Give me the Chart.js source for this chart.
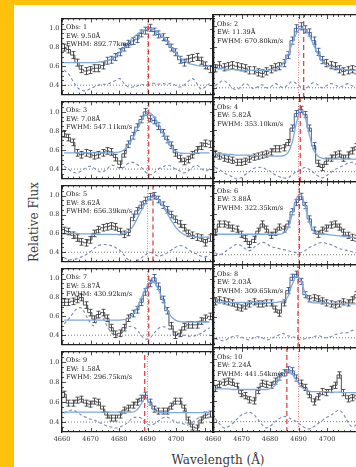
<!DOCTYPE html>
<html><head><meta charset="utf-8">
<script src="https://cdn.jsdelivr.net/npm/chart.js@4.4.1/dist/chart.umd.min.js"></script>
<style>
html,body{margin:0;padding:0;width:356px;height:467px;overflow:hidden;background:#FEC20C;position:relative;}
#page{position:absolute;left:14px;top:5px;width:342px;height:462px;background:#fff;}
canvas{position:absolute;}
.title{position:absolute;font-family:"DejaVu Serif";font-size:12px;color:#3a3a3a;white-space:nowrap;transform:translate(-50%,-50%);}
#xt{left:218px;top:460px;}
#yt{left:34px;top:222px;transform:translate(-50%,-50%) rotate(-90deg);}
</style></head><body>
<div id="page"></div>
<div class="title" id="xt">Wavelength (Å)</div>
<div class="title" id="yt">Relative Flux</div>
<script>
// ---------------- data ----------------
const wavelengths=[4660.75,4662.25,4663.75,4665.25,4666.75,4668.25,4669.75,4671.25,4672.75,4674.25,4675.75,4677.25,4678.75,4680.25,4681.75,4683.25,4684.75,4686.25,4687.75,4689.25,4690.75,4692.25,4693.75,4695.25,4696.75,4698.25,4699.75,4701.25,4702.75,4704.25,4705.75,4707.25,4708.75,4710.25,4711.75];
const xTickValues=[4660,4670,4680,4690,4700];
const xTickLabels=['4660','4670','4680','4690','4700'];
const yTickValues=[0.4,0.6,0.8,1.0];
const yTickLabels=['0.4','0.6','0.8','1.0'];
const obsNames=['Obs: 1','Obs: 2','Obs: 3','Obs: 4','Obs: 5','Obs: 6','Obs: 7','Obs: 8','Obs: 9','Obs: 10'];
const ewLabels=['EW: 9.50Å','EW: 11.39Å','EW: 7.08Å','EW: 5.82Å','EW: 8.62Å','EW: 3.88Å','EW: 5.87Å','EW: 2.03Å','EW: 1.58Å','EW: 2.24Å'];
const fwhmLabels=['FWHM: 892.77km/s','FWHM: 670.80km/s','FWHM: 547.11km/s','FWHM: 353.10km/s','FWHM: 656.39km/s','FWHM: 322.35km/s','FWHM: 430.92km/s','FWHM: 309.65km/s','FWHM: 296.75km/s','FWHM: 441.54km/s'];
const fluxErr=[0.037,0.035,0.035,0.03,0.035,0.03,0.035,0.03,0.03,0.03];
const lineCenters=[4690.3,4691.8,4690.4,4690.6,4691.9,4690.3,4690.4,4689.8,4689.0,4685.9];
const restWavelength=4690.0;
const referenceLevel=0.4;

const flux1=[0.80,0.78,0.72,0.64,0.57,0.55,0.56,0.58,0.58,0.61,0.66,0.67,0.70,0.75,0.80,0.84,0.87,0.89,0.95,0.98,1.01,0.97,0.94,0.91,0.87,0.80,0.75,0.67,0.64,0.68,0.69,0.70,0.66,0.61,0.57];
const fit1=[0.64,0.64,0.64,0.64,0.64,0.64,0.64,0.64,0.645,0.65,0.66,0.68,0.71,0.75,0.80,0.85,0.90,0.94,0.97,0.99,1.00,0.99,0.96,0.92,0.87,0.81,0.75,0.70,0.66,0.635,0.62,0.61,0.605,0.60,0.60];
const resid1=[0.56,0.52,0.45,0.38,0.35,0.34,0.36,0.38,0.40,0.41,0.41,0.43,0.45,0.47,0.42,0.38,0.38,0.39,0.41,0.40,0.41,0.42,0.41,0.42,0.41,0.42,0.40,0.38,0.40,0.44,0.47,0.42,0.36,0.38,0.42];

const flux2=[0.59,0.62,0.60,0.61,0.62,0.61,0.60,0.59,0.57,0.57,0.55,0.54,0.56,0.58,0.60,0.61,0.64,0.72,0.86,0.98,1.00,0.97,0.94,0.86,0.75,0.67,0.64,0.62,0.61,0.58,0.56,0.57,0.58,0.57,0.57];
const fit2=[0.59,0.59,0.585,0.58,0.58,0.575,0.575,0.57,0.57,0.57,0.57,0.57,0.57,0.575,0.58,0.60,0.64,0.72,0.83,0.93,0.98,0.97,0.91,0.82,0.73,0.66,0.62,0.60,0.59,0.585,0.58,0.575,0.57,0.57,0.57];
const resid2=[0.42,0.45,0.47,0.44,0.40,0.38,0.41,0.44,0.42,0.39,0.41,0.43,0.40,0.41,0.44,0.42,0.40,0.43,0.46,0.44,0.41,0.38,0.42,0.45,0.43,0.40,0.42,0.44,0.43,0.41,0.42,0.44,0.42,0.41,0.42];

const flux3=[0.77,0.73,0.68,0.57,0.55,0.57,0.56,0.54,0.55,0.57,0.59,0.58,0.52,0.45,0.56,0.66,0.75,0.84,0.92,1.00,0.93,0.91,0.85,0.78,0.71,0.65,0.57,0.51,0.48,0.50,0.55,0.60,0.64,0.67,0.66];
const fit3=[0.57,0.57,0.57,0.57,0.57,0.57,0.57,0.57,0.57,0.57,0.57,0.57,0.575,0.58,0.60,0.65,0.72,0.81,0.90,0.97,0.99,0.95,0.88,0.79,0.70,0.63,0.59,0.57,0.565,0.565,0.565,0.57,0.57,0.57,0.57];
const resid3=[0.43,0.40,0.37,0.36,0.38,0.41,0.43,0.41,0.38,0.37,0.40,0.44,0.43,0.41,0.42,0.46,0.47,0.45,0.42,0.37,0.34,0.36,0.40,0.42,0.44,0.43,0.40,0.38,0.36,0.38,0.42,0.44,0.41,0.38,0.40];

const flux4=[0.57,0.55,0.53,0.52,0.51,0.49,0.49,0.50,0.52,0.54,0.55,0.56,0.57,0.59,0.62,0.62,0.63,0.68,0.82,0.96,1.00,0.95,0.82,0.65,0.48,0.44,0.50,0.53,0.56,0.57,0.53,0.56,0.60,0.64,0.64];
const fit4=[0.57,0.57,0.57,0.565,0.565,0.56,0.56,0.56,0.56,0.555,0.555,0.555,0.555,0.55,0.55,0.55,0.555,0.58,0.68,0.87,0.99,0.93,0.76,0.61,0.55,0.53,0.52,0.52,0.52,0.52,0.52,0.52,0.52,0.52,0.52];
const resid4=[0.44,0.42,0.39,0.37,0.35,0.33,0.34,0.37,0.40,0.43,0.44,0.44,0.42,0.40,0.37,0.35,0.34,0.34,0.37,0.40,0.42,0.44,0.42,0.39,0.36,0.34,0.36,0.39,0.42,0.44,0.46,0.48,0.49,0.47,0.45];

const flux5=[0.63,0.62,0.58,0.55,0.51,0.50,0.53,0.60,0.64,0.66,0.67,0.68,0.67,0.62,0.59,0.61,0.77,0.84,0.90,0.95,0.99,1.00,0.96,0.90,0.85,0.80,0.75,0.70,0.66,0.60,0.58,0.56,0.55,0.50,0.55];
const fit5=[0.60,0.60,0.60,0.60,0.595,0.595,0.595,0.59,0.59,0.59,0.59,0.59,0.59,0.59,0.60,0.62,0.67,0.75,0.84,0.92,0.97,0.99,0.96,0.90,0.82,0.74,0.67,0.62,0.59,0.575,0.565,0.56,0.56,0.56,0.56];
const resid5=[0.34,0.32,0.32,0.33,0.35,0.37,0.40,0.44,0.47,0.48,0.48,0.47,0.45,0.42,0.37,0.32,0.30,0.31,0.34,0.37,0.40,0.38,0.36,0.37,0.39,0.42,0.45,0.47,0.46,0.43,0.40,0.38,0.36,0.35,0.38];

const flux6=[0.62,0.70,0.70,0.69,0.66,0.65,0.60,0.56,0.50,0.55,0.63,0.70,0.65,0.59,0.62,0.67,0.65,0.70,0.82,0.91,0.97,0.88,0.75,0.64,0.60,0.64,0.66,0.69,0.70,0.67,0.62,0.59,0.57,0.56,0.56];
const fit6=[0.60,0.60,0.60,0.60,0.60,0.60,0.60,0.60,0.60,0.60,0.60,0.60,0.60,0.60,0.60,0.60,0.61,0.66,0.79,0.95,0.99,0.88,0.72,0.63,0.605,0.60,0.60,0.595,0.59,0.585,0.58,0.575,0.57,0.565,0.56];
const resid6=[0.42,0.40,0.42,0.45,0.48,0.50,0.49,0.46,0.44,0.47,0.50,0.52,0.51,0.48,0.47,0.46,0.45,0.44,0.43,0.42,0.42,0.44,0.47,0.49,0.51,0.52,0.51,0.50,0.48,0.46,0.45,0.44,0.43,0.42,0.42];

const flux7=[0.75,0.75,0.76,0.78,0.80,0.72,0.64,0.57,0.62,0.64,0.58,0.48,0.41,0.42,0.48,0.58,0.63,0.67,0.75,0.86,0.95,1.01,0.92,0.78,0.66,0.50,0.40,0.42,0.49,0.51,0.51,0.51,0.55,0.58,0.60];
const fit7=[0.56,0.56,0.56,0.56,0.56,0.56,0.56,0.56,0.56,0.56,0.56,0.56,0.56,0.56,0.565,0.58,0.62,0.69,0.79,0.89,0.96,0.96,0.89,0.78,0.67,0.60,0.56,0.545,0.54,0.54,0.54,0.54,0.54,0.54,0.54];
const resid7=[0.52,0.57,0.63,0.68,0.69,0.62,0.54,0.50,0.58,0.58,0.50,0.43,0.39,0.41,0.45,0.49,0.49,0.46,0.40,0.36,0.37,0.42,0.47,0.49,0.48,0.45,0.42,0.40,0.40,0.39,0.39,0.40,0.42,0.45,0.48];

const flux8=[0.75,0.77,0.76,0.75,0.74,0.70,0.69,0.71,0.73,0.75,0.73,0.73,0.74,0.74,0.68,0.64,0.74,0.86,0.99,1.02,0.95,0.82,0.78,0.79,0.78,0.76,0.74,0.73,0.72,0.73,0.75,0.74,0.77,0.82,0.78];
const fit8=[0.745,0.745,0.745,0.745,0.745,0.745,0.745,0.745,0.745,0.745,0.745,0.745,0.745,0.745,0.745,0.75,0.76,0.80,0.92,1.00,0.96,0.84,0.76,0.74,0.74,0.74,0.74,0.735,0.735,0.735,0.73,0.73,0.73,0.73,0.73];
const resid8=[0.39,0.38,0.37,0.39,0.41,0.42,0.41,0.39,0.38,0.40,0.41,0.40,0.38,0.39,0.41,0.43,0.44,0.42,0.41,0.40,0.38,0.39,0.40,0.41,0.42,0.41,0.40,0.41,0.43,0.44,0.45,0.45,0.47,0.48,0.49];

const flux9=[0.68,0.59,0.59,0.62,0.63,0.59,0.58,0.61,0.60,0.53,0.47,0.44,0.44,0.47,0.52,0.54,0.57,0.60,0.64,0.67,0.60,0.53,0.51,0.51,0.51,0.56,0.61,0.61,0.54,0.42,0.35,0.34,0.42,0.47,0.48];
const fit9=[0.50,0.50,0.50,0.50,0.50,0.50,0.50,0.50,0.50,0.50,0.50,0.50,0.50,0.50,0.50,0.50,0.50,0.52,0.58,0.64,0.59,0.52,0.50,0.495,0.495,0.495,0.495,0.495,0.495,0.495,0.495,0.495,0.495,0.495,0.495];
const resid9=[0.49,0.51,0.52,0.50,0.47,0.45,0.43,0.42,0.40,0.38,0.36,0.35,0.34,0.35,0.37,0.40,0.44,0.45,0.44,0.40,0.37,0.38,0.41,0.44,0.45,0.43,0.40,0.39,0.38,0.37,0.40,0.43,0.45,0.45,0.44];

const flux10=[0.72,0.76,0.78,0.79,0.78,0.74,0.67,0.65,0.61,0.60,0.70,0.77,0.76,0.75,0.79,0.83,0.87,0.90,0.89,0.82,0.77,0.73,0.66,0.59,0.64,0.69,0.68,0.71,0.75,0.85,0.68,0.62,0.63,0.65,0.64];
const fit10=[0.715,0.715,0.715,0.715,0.71,0.71,0.71,0.71,0.71,0.71,0.71,0.71,0.71,0.72,0.75,0.81,0.87,0.89,0.86,0.80,0.74,0.71,0.695,0.69,0.69,0.69,0.69,0.685,0.685,0.685,0.68,0.68,0.68,0.68,0.68];
const resid10=[0.43,0.38,0.34,0.35,0.38,0.42,0.46,0.48,0.49,0.47,0.42,0.37,0.34,0.36,0.40,0.43,0.45,0.44,0.42,0.40,0.37,0.34,0.33,0.35,0.38,0.41,0.44,0.46,0.49,0.51,0.47,0.40,0.35,0.37,0.40];

const fluxSeries=[flux1,flux2,flux3,flux4,flux5,flux6,flux7,flux8,flux9,flux10];
const fitSeries=[fit1,fit2,fit3,fit4,fit5,fit6,fit7,fit8,fit9,fit10];
const residSeries=[resid1,resid2,resid3,resid4,resid5,resid6,resid7,resid8,resid9,resid10];

// ---------------- layout / style ----------------
const X_MIN=4660, X_MAX=4713.3, Y_MIN=0.30, Y_MAX=1.11;
const rowEdges=[15,98,182,265,348,432];
const FONT='"DejaVu Serif"';
const GRAY='#3c3c3c', NAVY='#34558c';

function innerTicksPlugin(){
  return {id:'innerTicks',afterDraw(chart){
    const {ctx,chartArea:a,scales:{x,y}}=chart;
    ctx.save();ctx.strokeStyle='#222';ctx.lineWidth=0.8;ctx.beginPath();
    for(let v=4660;v<=4712;v+=2){
      const px=Math.round(x.getPixelForValue(v))+0.5;const L=(v%10===0)?4:2;
      ctx.moveTo(px,a.bottom);ctx.lineTo(px,a.bottom-L);ctx.moveTo(px,a.top);ctx.lineTo(px,a.top+L);
    }
    for(let j=7;j<=22;j++){
      const v=j*0.05;const py=Math.round(y.getPixelForValue(v))+0.5;const L=(j%4===0)?4:2;
      ctx.moveTo(a.left,py);ctx.lineTo(a.left+L,py);ctx.moveTo(a.right,py);ctx.lineTo(a.right-L,py);
    }
    ctx.stroke();ctx.restore();
  }};
}

function buildPanel(k){
  const col=k%2,row=(k-col)/2;
  const areaTop=rowEdges[row],areaH=rowEdges[row+1]-rowEdges[row];
  const areaLeft=col===0?62:213,areaW=152,pad=3;
  const bottomRow=row===4;
  const yW=col===0?62:14;
  const xH=bottomRow?22:pad;
  const cv=document.createElement('canvas');
  cv.width=yW+areaW+pad;cv.height=pad+areaH+xH;
  cv.style.left=(areaLeft-yW)+'px';cv.style.top=(areaTop-pad)+'px';
  document.body.appendChild(cv);

  const flux=fluxSeries[k],fit=fitSeries[k],res=residSeries[k],err=fluxErr[k];
  const base=Math.min(fit[0],fit[fit.length-1]);
  const isPeak=i=>fit[i]-base>0.06;
  const pts=arr=>arr.map((v,i)=>({x:wavelengths[i],y:v}));

  const errorBars={id:'errorBars',beforeDatasetsDraw(chart){
    const {ctx,chartArea:a,scales:{x,y}}=chart;
    ctx.save();ctx.beginPath();ctx.rect(a.left,a.top,a.right-a.left,a.bottom-a.top);ctx.clip();
    ctx.lineWidth=0.9;
    flux.forEach((v,i)=>{
      const px=Math.round(x.getPixelForValue(wavelengths[i]))+0.5;
      const lo=y.getPixelForValue(v-err),hi=y.getPixelForValue(v+err);
      ctx.strokeStyle=isPeak(i)?NAVY:GRAY;
      ctx.beginPath();
      ctx.moveTo(px,lo);ctx.lineTo(px,hi);
      ctx.moveTo(px-2,lo);ctx.lineTo(px+2,lo);
      ctx.moveTo(px-2,hi);ctx.lineTo(px+2,hi);
      ctx.stroke();
    });
    ctx.restore();
  }};
  const panelText={id:'panelText',afterDraw(chart){
    const {ctx,chartArea:a}=chart;
    ctx.save();ctx.font='6.5px '+FONT;ctx.fillStyle='#1a1a1a';ctx.textBaseline='middle';ctx.textAlign='left';
    [obsNames[k],ewLabels[k],fwhmLabels[k]].forEach((t,j)=>ctx.fillText(t,a.left+4,a.top+[9,17.5,26][j]));
    ctx.restore();
  }};

  const borderOpt={display:true,color:'#1e1e1e',width:1.3};
  new Chart(cv,{
    type:'line',
    data:{datasets:[
      {label:'center',data:[{x:lineCenters[k],y:Y_MIN},{x:lineCenters[k],y:Y_MAX}],borderColor:'#d83a3a',borderWidth:1.2,borderDash:[5,3],pointRadius:0,order:1},
      {label:'rest',data:[{x:restWavelength,y:Y_MIN},{x:restWavelength,y:Y_MAX}],borderColor:'#e77a7a',borderWidth:1,borderDash:[1,1.5],pointRadius:0,order:2},
      {label:'fit',data:pts(fit),borderColor:'#7fa8dd',borderWidth:1.3,pointRadius:0,tension:0.4,cubicInterpolationMode:'monotone',order:3},
      {label:'flux',data:pts(flux),stepped:'middle',borderColor:GRAY,borderWidth:0.9,pointRadius:0,order:4,
        segment:{borderColor:c=>(isPeak(c.p0DataIndex)&&isPeak(c.p1DataIndex))?NAVY:GRAY}},
      {label:'residual',data:pts(res),borderColor:'#7489b3',borderWidth:1.1,borderDash:[3,2.5],pointRadius:0,tension:0.4,order:5},
      {label:'ref',data:[{x:X_MIN,y:referenceLevel},{x:X_MAX,y:referenceLevel}],borderColor:'#555',borderWidth:0.8,borderDash:[1,2],pointRadius:0,order:6}
    ]},
    options:{
      responsive:false,animation:false,devicePixelRatio:1,
      layout:{padding:0},
      plugins:{legend:{display:false},tooltip:{enabled:false}},
      scales:{
        x:{type:'linear',position:'bottom',min:X_MIN,max:X_MAX,
          afterFit:s=>{s.height=xH;},
          afterBuildTicks:s=>{s.ticks=xTickValues.map(v=>({value:v}));},
          ticks:{display:bottomRow,autoSkip:false,maxRotation:0,padding:3,color:'#333',font:{family:FONT,size:6.5},callback:(v,i)=>xTickLabels[i]},
          grid:{display:false,drawTicks:false},border:borderOpt},
        x2:{type:'linear',position:'top',min:X_MIN,max:X_MAX,afterFit:s=>{s.height=pad;},
          ticks:{display:false},grid:{display:false,drawTicks:false},border:borderOpt},
        y:{type:'linear',position:'left',min:Y_MIN,max:Y_MAX,
          afterFit:s=>{s.width=yW;},
          afterBuildTicks:s=>{s.ticks=yTickValues.map(v=>({value:v}));},
          ticks:{display:col===0,padding:2.5,color:'#333',font:{family:FONT,size:6.5},callback:(v,i)=>yTickLabels[i]},
          grid:{display:false,drawTicks:false},border:borderOpt},
        y2:{type:'linear',position:'right',min:Y_MIN,max:Y_MAX,afterFit:s=>{s.width=pad;},
          ticks:{display:false},grid:{display:false,drawTicks:false},border:borderOpt}
      }
    },
    plugins:[errorBars,innerTicksPlugin(),panelText]
  });
}
for(let k=0;k<10;k++) buildPanel(k);
</script>
</body></html>
